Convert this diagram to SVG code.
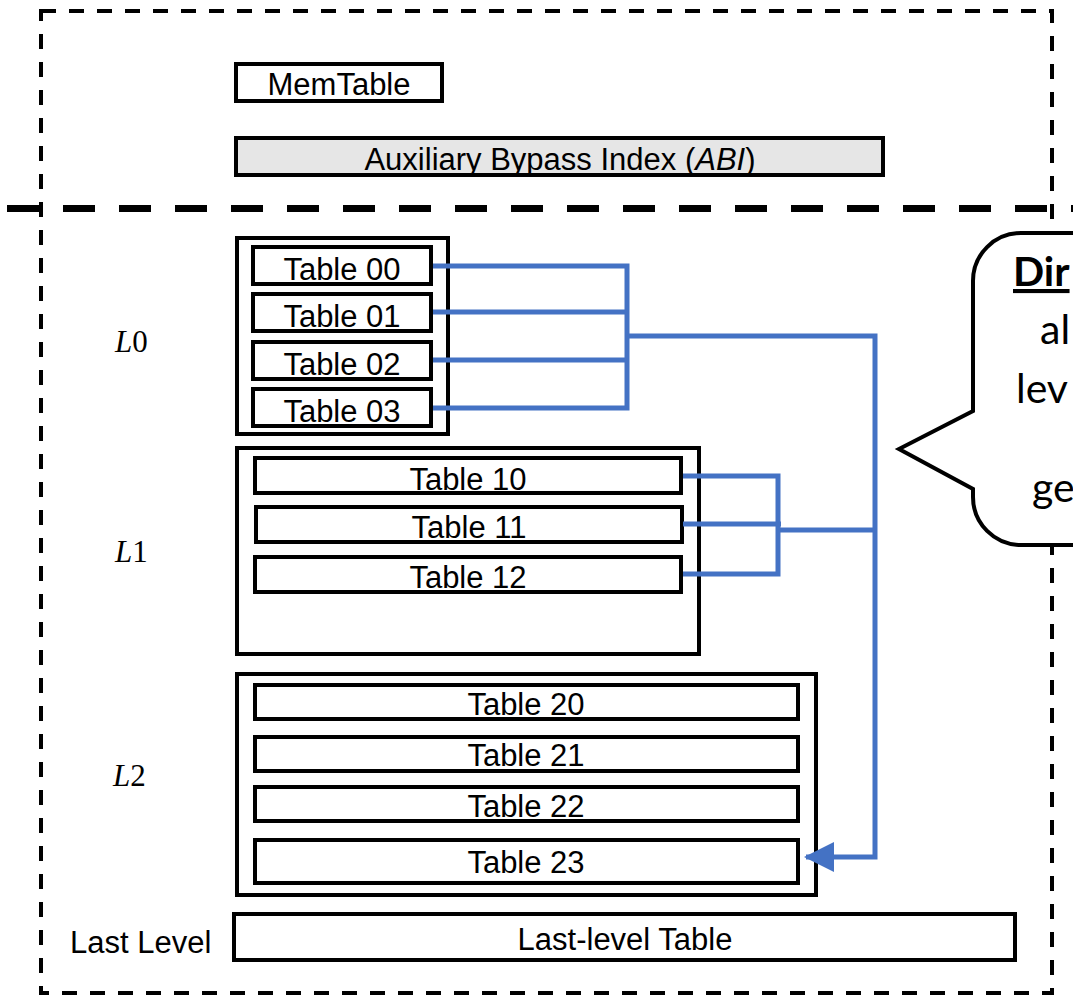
<svg xmlns="http://www.w3.org/2000/svg" width="1073" height="995" viewBox="0 0 1073 995">
<defs>
<style>
.box{fill:#fff;stroke:#000;stroke-width:4}
.abi{fill:#e6e6e6;stroke:#000;stroke-width:4}
.t{font-family:"Liberation Sans",Arial,sans-serif;font-size:31px;fill:#000;text-anchor:middle}
.lv{font-family:"Liberation Serif","DejaVu Serif",serif;font-size:31px;fill:#000}
.conn{fill:none;stroke:#4472C4;stroke-width:5}
.call{font-family:Lato,"Open Sans",sans-serif;font-size:41px;fill:#000}
</style>
<marker id="arr" markerWidth="6" markerHeight="6" refX="5.6" refY="3" orient="auto" markerUnits="strokeWidth">
<path d="M0,0 L6,3 L0,6 Z" fill="#4472C4"/>
</marker>
</defs>
<rect width="1073" height="995" fill="#fff"/>
<g id="frame">
<rect x="41" y="11" width="1011" height="982" fill="none" stroke="#000" stroke-width="4" stroke-dasharray="15 13"/>
<line x1="7" y1="208.5" x2="1073" y2="208.5" stroke="#000" stroke-width="7" stroke-dasharray="32 24"/>
</g>
<g id="memtable">
<rect class="box" x="236" y="64" width="206" height="37"/>
<text class="t" x="339" y="95">MemTable</text>
</g>
<g id="abi">
<rect class="abi" x="236" y="138" width="647" height="37"/>
<text class="t" x="560" y="170">Auxiliary Bypass Index (<tspan font-style="italic">ABI</tspan>)</text>
</g>
<g id="L0">
<rect class="box" x="237" y="238" width="211" height="196"/>
<text class="lv" x="115" y="352"><tspan font-style="italic">L</tspan>0</text>
<g id="t00"><rect class="box" x="253" y="247" width="178" height="37"/><text class="t" x="342" y="280">Table 00</text></g>
<g id="t01"><rect class="box" x="253" y="294" width="178" height="37"/><text class="t" x="342" y="327">Table 01</text></g>
<g id="t02"><rect class="box" x="253" y="342" width="178" height="37"/><text class="t" x="342" y="375">Table 02</text></g>
<g id="t03"><rect class="box" x="253" y="389" width="178" height="37"/><text class="t" x="342" y="422">Table 03</text></g>
</g>
<g id="L1">
<rect class="box" x="237" y="448" width="462" height="206"/>
<text class="lv" x="115" y="562"><tspan font-style="italic">L</tspan>1</text>
<g id="t10"><rect class="box" x="255" y="458" width="426" height="35"/><text class="t" x="468" y="490">Table 10</text></g>
<g id="t11"><rect class="box" x="256" y="507" width="426" height="35"/><text class="t" x="469" y="538">Table 11</text></g>
<g id="t12"><rect class="box" x="255" y="557" width="426" height="35"/><text class="t" x="468" y="588">Table 12</text></g>
</g>
<g id="L2">
<rect class="box" x="237" y="674" width="579" height="221"/>
<text class="lv" x="113" y="786"><tspan font-style="italic">L</tspan>2</text>
<g id="t20"><rect class="box" x="255" y="685" width="543" height="34"/><text class="t" x="526" y="715">Table 20</text></g>
<g id="t21"><rect class="box" x="255" y="737" width="543" height="34"/><text class="t" x="526" y="766">Table 21</text></g>
<g id="t22"><rect class="box" x="255" y="787" width="543" height="34"/><text class="t" x="526" y="817">Table 22</text></g>
<g id="t23"><rect class="box" x="255" y="840" width="543" height="43"/><text class="t" x="526" y="873">Table 23</text></g>
</g>
<g id="lastlevel">
<text x="70" y="953" font-family="Liberation Sans,Arial,sans-serif" font-size="31" fill="#000">Last Level</text>
<rect class="box" x="234" y="914" width="781" height="46"/>
<text class="t" x="625" y="950">Last-level Table</text>
</g>
<g id="connectors">
<path class="conn" d="M433,266 H627 V408 H433 M433,312 H627 M433,360 H627 M627,336 H875 V857 H806" marker-end="url(#arr)"/>
<path class="conn" d="M683,476 H778 V574 H683 M683,524 H781 M778,530 H875"/>
</g>
<g id="callout">
<path d="M1200,233 H1021 A48,48 0 0 0 973,281 V411 L899,449 L973,489 V497 A48,48 0 0 0 1021,545 H1200" fill="#fff" stroke="#000" stroke-width="4"/>
<text class="call" x="1013" y="286" font-weight="bold" text-decoration="underline">Dir</text>
<text class="call" x="1040" y="344">al</text>
<text class="call" x="1016" y="403">lev</text>
<text class="call" x="1032" y="502">ge</text>
</g>
</svg>
